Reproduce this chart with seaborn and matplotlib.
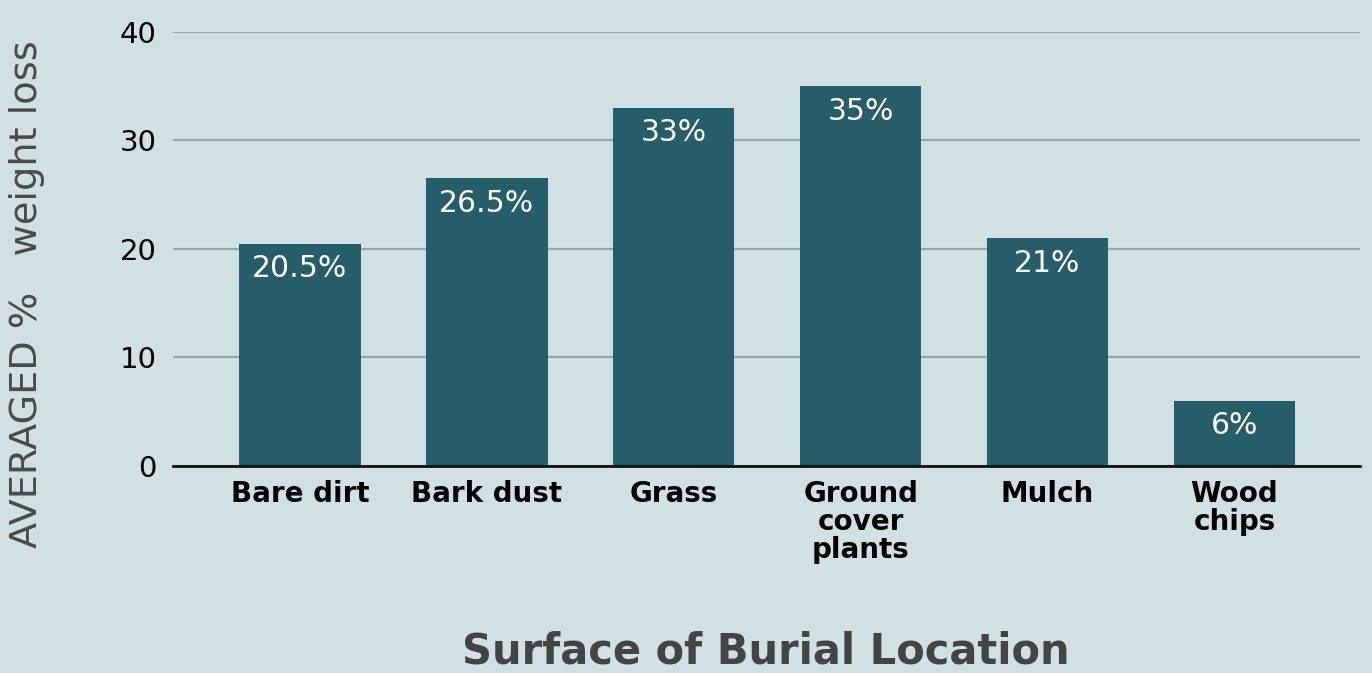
import pandas as pd
import matplotlib.pyplot as plt
import seaborn as sns

# data
categories = ["Bare dirt", "Bark dust", "Grass", "Ground\ncover\nplants", "Mulch", "Wood\nchips"]
weight_loss = [20.5, 26.5, 33, 35, 21, 6]
bar_labels = ["20.5%", "26.5%", "33%", "35%", "21%", "6%"]
y_ticks = [0, 10, 20, 30, 40]

bg = "#d1e0e3"
bar_color = "#255d69"

sns.set_theme(style="white")
plt.rcParams["font.family"] = ["DejaVu Sans"]

df = pd.DataFrame({"Surface": categories, "Loss": weight_loss})

fig = plt.figure(figsize=(13.72, 6.73), dpi=100, facecolor=bg)
ax = fig.add_axes([0.126, 0.3076, 0.865, 0.645])
ax.set_facecolor(bg)

sns.barplot(data=df, x="Surface", y="Loss", color=bar_color, width=0.65,
            saturation=1, linewidth=0, ax=ax, zorder=3)

# white labels just inside the top of each bar
for bar, lab in zip(ax.patches, bar_labels):
    ax.annotate(lab, (bar.get_x() + bar.get_width() / 2, bar.get_height()),
                xytext=(0, -18), textcoords="offset points",
                ha="center", va="center", color="white", fontsize=21.5, zorder=4)

ax.set_ylim(0, 40)
ax.set_xlim(-0.68, 5.67)
ax.set_yticks(y_ticks)
ax.yaxis.grid(True, color="#97a6a6", linewidth=1.6, zorder=0)
ax.set_axisbelow(True)

for s in ["left", "right", "top"]:
    ax.spines[s].set_visible(False)
ax.spines["bottom"].set_color("#111111")
ax.spines["bottom"].set_linewidth(2)
ax.spines["bottom"].set_zorder(5)

ax.tick_params(axis="y", length=0, pad=11.5, labelsize=21, labelcolor="black")
ax.tick_params(axis="x", length=0, pad=10, labelsize=20, labelcolor="black")
for t in ax.get_xticklabels():
    t.set_fontweight("bold")
    t.set_linespacing(1.0)
    t.set_verticalalignment("top")

ax.set_xlabel("")
ax.set_ylabel("")

fig.text(766 / 1372, 1 - 652 / 673, "Surface of Burial Location", ha="center", va="center",
         fontsize=30, fontweight="bold", color="#444444")
fig.text(27 / 1372, 1 - 294 / 673, "AVERAGED %   weight loss", ha="center", va="center",
         rotation=90, fontsize=27.5, color="#4a4a4a")

fig.savefig("out.png", dpi=100, facecolor=bg)
